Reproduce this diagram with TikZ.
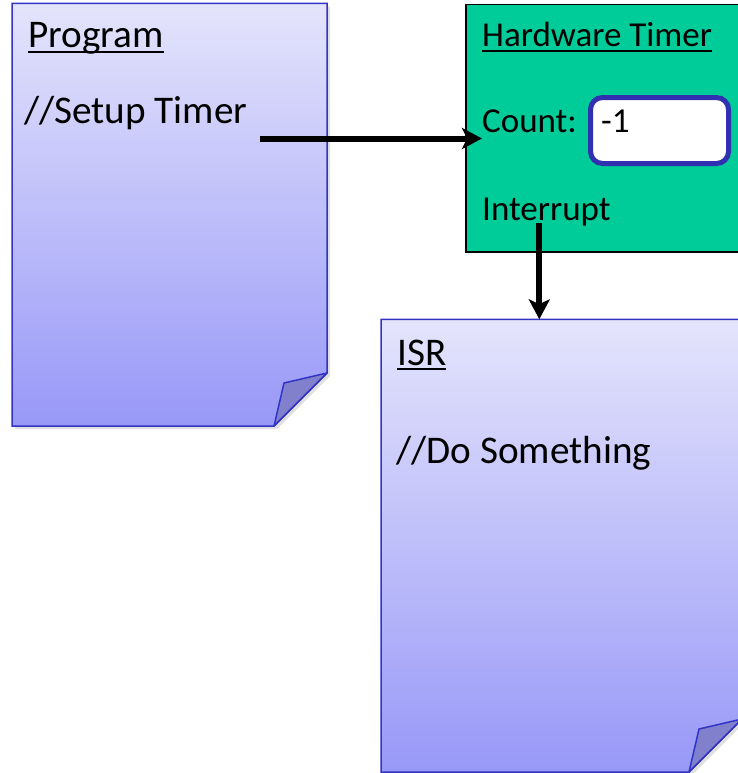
\documentclass[tikz,border=0pt]{standalone}
\usepackage{fontspec}
\setmainfont{Carlito}
\usetikzlibrary{positioning,arrows.meta}
\definecolor{pagetop}{HTML}{E4E4FC}
\definecolor{pagebot}{HTML}{9898F8}
\definecolor{pageline}{HTML}{3434C4}
\definecolor{flapfill}{HTML}{8080CC}
\definecolor{timergreen}{HTML}{00CC99}
\definecolor{countline}{HTML}{3030B0}

% underlined heading
\newcommand{\titlebar}[1]{\setbox0=\hbox{#1}\rlap{\rule[-5bp]{\wd0}{2.2bp}}\box0}
% page with a folded corner: name, left, top, right, bottom
\newcommand{\docpage}[5]{%
  \fill[black,opacity=0.12] (#2+3,#3+3) -- (#4+3,#3+3) -- (#4+3,#5-50) -- (#4-50,#5+3) -- (#2+3,#5+3) -- cycle;
  \shade[top color=pagetop,bottom color=pagebot,draw=pageline,line width=1.5bp]
    (#2,#3) -- (#4,#3) -- (#4,#5-53) -- (#4-53,#5) -- (#2,#5) -- cycle;
  \filldraw[fill=flapfill,draw=pageline,line width=1.5bp,line join=round]
    (#4,#5-53) -- (#4-43,#5-43) -- (#4-53,#5) -- cycle;
  \coordinate (#1-top) at ({(#2+#4)/2},#3);
}

\begin{document}
\begin{tikzpicture}[x=1bp,y=-1bp,
  txt/.style={font=\fontsize{39.2bp}{46bp}\selectfont,inner sep=0pt,anchor=base west},
  hwtxt/.style={txt,font=\fontsize{35bp}{42bp}\selectfont},
  flow/.style={line width=6bp,-{Stealth[length=20bp,width=21bp,inset=5bp]}},
  countbox/.style={draw=countline,line width=5bp,fill=white,rounded corners=12bp,
    minimum width=138bp,minimum height=66bp,anchor=north west,inner sep=0pt}]
  \useasboundingbox (0,0) rectangle (738,773);
  \clip (0,0) rectangle (738,773);

  % program page
  \docpage{prog}{12}{3.3}{327}{426}
  \node[txt] (prog-title) at (28,48) {\titlebar{Program}};
  \node[txt] (setup) at (24,123) {//Setup Timer};

  % hardware timer
  \draw[fill=timergreen,draw=black,line width=1.2bp] (466,4.5) rectangle (760,252);
  \node[hwtxt] (hw-title) at (482,47) {\titlebar{Hardware Timer}};
  \node[hwtxt] (count) at (482,132) {Count:};
  \node[countbox] (countval) at (588,95) {};
  \node[hwtxt] (minusone) at (601,132) {-1};
  \node[hwtxt] (irq) at (482,220) {Interrupt};

  % isr page
  \docpage{isr}{381}{319.3}{742}{772}
  \node[txt] (isr-title) at (397,365) {\titlebar{ISR}};
  \node[txt] (dosomething) at (396,463) {//Do Something};

  % arrows
  \coordinate (setupend) at (260,138.5);
  \coordinate (irqout) at (539.3,223);
  \draw[flow] (setupend) -- (setupend -| count.west);
  \draw[flow] (irqout) -- (irqout |- isr-top);
\end{tikzpicture}
\end{document}
